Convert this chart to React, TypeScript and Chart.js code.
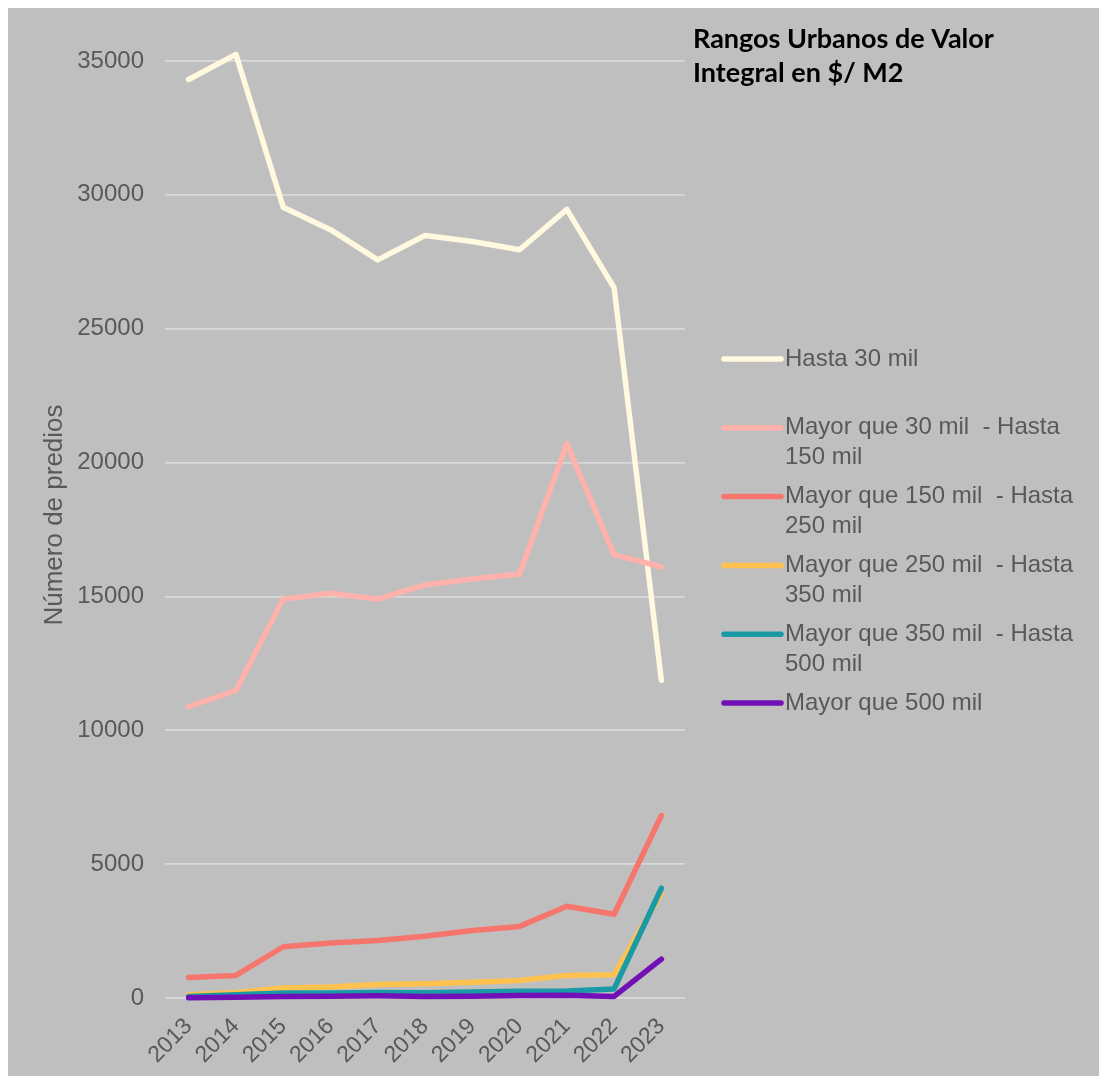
import React, { useEffect, useRef } from "react";
import { Chart, registerables } from "chart.js";

Chart.register(...registerables);

// Years on the category axis
const years = ["2013", "2014", "2015", "2016", "2017", "2018", "2019", "2020", "2021", "2022", "2023"];

// Number of properties per value range
const hasta30 = [34310, 35250, 29540, 28700, 27570, 28480, 28260, 27950, 29460, 26530, 11870];
const de30a150 = [10880, 11490, 14900, 15120, 14900, 15430, 15650, 15840, 20700, 16560, 16100];
const de150a250 = [770, 845, 1915, 2055, 2145, 2310, 2525, 2675, 3430, 3130, 6815];
const de250a350 = [125, 210, 377, 410, 500, 530, 590, 650, 845, 870, 3910];
const de350a500 = [60, 125, 185, 185, 210, 200, 225, 250, 265, 340, 4100];
const mayor500 = [10, 30, 60, 70, 80, 60, 70, 90, 100, 60, 1450];

const seriesLabels = [
  "Hasta 30 mil",
  "Mayor que 30 mil  - Hasta 150 mil",
  "Mayor que 150 mil  - Hasta 250 mil",
  "Mayor que 250 mil  - Hasta 350 mil",
  "Mayor que 350 mil  - Hasta 500 mil",
  "Mayor que 500 mil",
];
const seriesColors = ["#FFF9DF", "#FFB1AB", "#F6766D", "#FFC24E", "#1A9AA5", "#7010B6"];
const seriesData = [hasta30, de30a150, de150a250, de250a350, de350a500, mayor500];

const yTicks = { min: 0, max: 35000, step: 5000 };
const titleLines = ["Rangos Urbanos de Valor", "Integral en $/ M2"];
const yAxisTitle = "Número de predios";

const W = 1091;
const H = 1068;
const TEXT = "#595959";
const FONT = "Liberation Sans, Arial, sans-serif";

function wrapText(ctx: CanvasRenderingContext2D, text: string, maxW: number): string[] {
  const words = text.split(" ");
  const lines: string[] = [];
  let cur = "";
  for (let i = 0; i < words.length; i++) {
    const w = words[i];
    const test = cur === "" ? w : cur + " " + w;
    if (cur !== "" && w !== "" && ctx.measureText(test).width > maxW) {
      lines.push(cur);
      cur = w;
    } else {
      cur = test;
    }
  }
  if (cur) lines.push(cur);
  return lines;
}

const decorations = {
  id: "decorations",
  beforeDraw(chart: any) {
    const ctx = chart.ctx;
    ctx.save();
    ctx.fillStyle = "#BFBFBF";
    ctx.fillRect(0, 0, chart.width, chart.height);
    ctx.restore();
  },
  afterDraw(chart: any) {
    const ctx = chart.ctx;
    ctx.save();
    // chart title
    ctx.fillStyle = "#000000";
    ctx.font = "bold 27px Lato, sans-serif";
    ctx.textAlign = "left";
    ctx.textBaseline = "alphabetic";
    titleLines.forEach((t, i) => ctx.fillText(t, 685, 40 + i * 34));

    // vertical axis title
    ctx.save();
    ctx.translate(47, 507);
    ctx.rotate(-Math.PI / 2);
    ctx.fillStyle = TEXT;
    ctx.font = `26px ${FONT}`;
    ctx.textAlign = "center";
    ctx.textBaseline = "middle";
    ctx.fillText(yAxisTitle, 0, 0);
    ctx.restore();

    // legend
    ctx.font = `24px ${FONT}`;
    ctx.textBaseline = "middle";
    chart.data.datasets.forEach((ds: any, i: number) => {
      const y = 351 + i * 68.8;
      ctx.strokeStyle = ds.borderColor;
      ctx.lineWidth = 5.5;
      ctx.lineCap = "round";
      ctx.beginPath();
      ctx.moveTo(716, y);
      ctx.lineTo(773, y);
      ctx.stroke();
      ctx.fillStyle = TEXT;
      const lines = wrapText(ctx, ds.label, 295);
      lines.forEach((l, j) => ctx.fillText(l, 777, y + j * 30));
    });
    ctx.restore();
  },
};

export default function App() {
  const ref = useRef<HTMLCanvasElement>(null);

  useEffect(() => {
    if (!ref.current) return;
    const chart = new Chart(ref.current, {
      type: "line",
      data: {
        labels: years,
        datasets: seriesData.map((d, i) => ({
          label: seriesLabels[i],
          data: d,
          borderColor: seriesColors[i],
          backgroundColor: seriesColors[i],
          borderWidth: 5.5,
          pointRadius: 0,
          borderCapStyle: "round",
          borderJoinStyle: "round",
          tension: 0,
          clip: false,
          order: seriesData.length - 1 - i,
        })),
      },
      options: {
        responsive: false,
        animation: false,
        devicePixelRatio: 1,
        layout: { padding: { top: 53, right: 414, left: 0, bottom: 0 } },
        plugins: {
          legend: { display: false },
          tooltip: { enabled: false },
          title: { display: false },
        },
        scales: {
          x: {
            offset: true,
            grid: { display: false, drawTicks: false },
            border: { display: false },
            ticks: {
              color: TEXT,
              font: { family: FONT, size: 23 },
              minRotation: 45,
              maxRotation: 45,
              padding: 15,
              autoSkip: false,
            },
            afterFit(scale: any) {
              scale.height = 78;
            },
          },
          y: {
            min: yTicks.min,
            max: yTicks.max,
            grid: { color: "#D9D9D9", lineWidth: 1.75, drawTicks: false },
            border: { display: false },
            ticks: {
              stepSize: yTicks.step,
              color: TEXT,
              font: { family: FONT, size: 24 },
              padding: 21,
              callback: (v: any) => String(v),
            },
            afterFit(scale: any) {
              scale.width = 157;
            },
          },
        },
      },
      plugins: [decorations],
    });
    return () => chart.destroy();
  }, []);

  return (
    <div style={{ position: "fixed", left: 8, top: 8, width: W, height: H }}>
      <canvas ref={ref} width={W} height={H} style={{ display: "block" }} />
    </div>
  );
}
